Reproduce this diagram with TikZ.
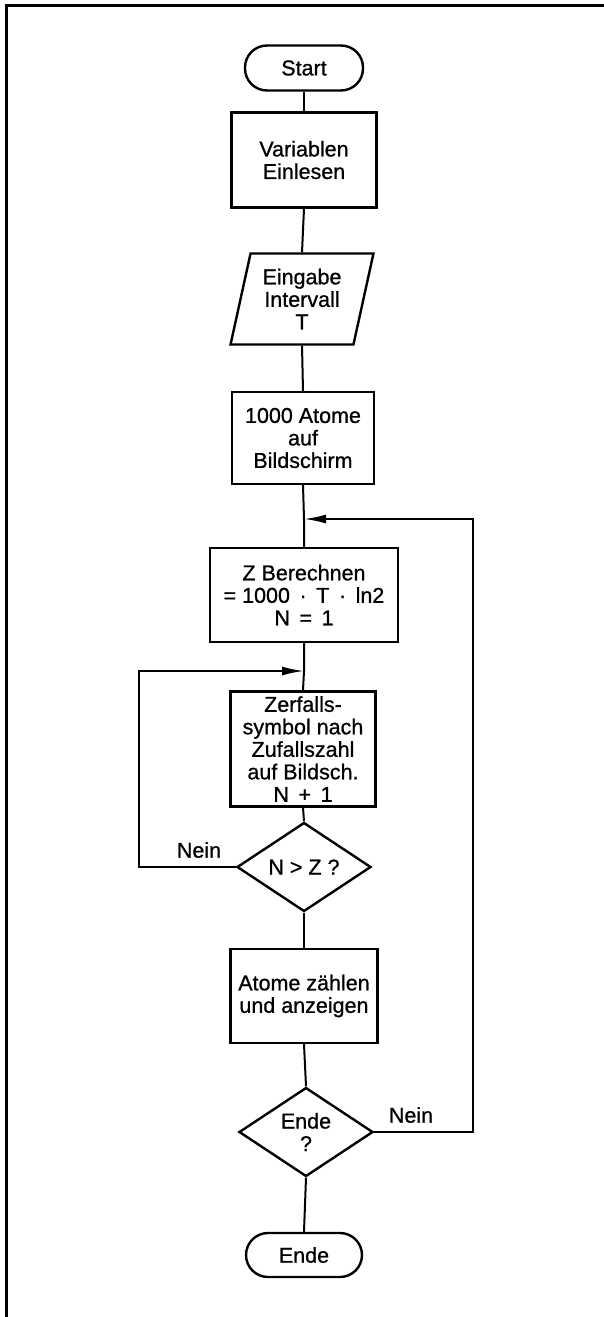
\documentclass[tikz,border=0pt]{standalone}
\usepackage{fontspec}
\setmainfont[FakeBold=0.8]{Liberation Sans}
\usetikzlibrary{shapes.geometric,arrows.meta}
\begin{document}
\begin{tikzpicture}[x=1pt,y=-1pt,
  every node/.style={font=\fontsize{21.5}{22.5}\selectfont, align=center, line width=2.4pt, inner sep=2pt},
  term/.style={draw, rectangle, rounded corners=22pt, minimum width=118pt, minimum height=45pt},
  proc/.style={draw, rectangle, minimum width=145pt},
  io/.style={draw, trapezium, trapezium left angle=76, trapezium right angle=104, trapezium stretches=true, minimum width=143pt, minimum height=91pt},
  dec/.style={draw, diamond, aspect=1.5, minimum width=134pt, minimum height=89pt, inner sep=0pt},
  lbl/.style={inner sep=0pt},
  conn/.style={line width=2pt},
  arr/.style={conn, -{Latex[length=22pt,width=9pt]}}
]
\useasboundingbox (0,0) rectangle (604,1317);
% frame
\draw[line width=3pt] (6,1317) -- (6,5) -- (604,5);

\node[term] (start) at (304,68) {Start};
\node[proc, minimum height=95pt] (var) at (304,160) {Variablen\\Einlesen};
\node[io] (inp) at (302,299) {Eingabe\\Intervall\\T};
\node[proc, minimum width=142pt, minimum height=92pt] (atoms) at (303,438) {1000 Atome\\auf\\Bildschirm};
\coordinate (j1) at (304,519);
\node[proc, minimum width=188pt, minimum height=94pt] (zb) at (304,595) {Z Berechnen\\= 1000 \,·\, T \,·\, ln2\\N \,=\, 1};
\coordinate (j2) at (304,671);
\node[proc, minimum height=115pt] (zer) at (303,749) {Zerfalls-\\symbol nach\\Zufallszahl\\auf Bildsch.\\N \,+\, 1};
\node[dec] (d1) at (304,867) {N > Z ?};
\node[proc, minimum width=147pt, minimum height=94pt] (cnt) at (304,996) {Atome zählen\\und anzeigen};
\node[dec] (d2) at (306,1132) {Ende\\?};
\node[term, minimum width=116pt, minimum height=44pt] (end) at (304,1255) {Ende};

\coordinate (c1) at (139,867);
\coordinate (c2) at (473,1132);
\node[lbl] (n1) at (199,850) {Nein};
\node[lbl] (n2) at (411,1115) {Nein};

\draw[conn] (start.south) -- (var.north);
\draw[conn] (var.south) -- (inp.north);
\draw[conn] (inp.south) -- (atoms.north);
\draw[conn] (atoms.south) -- (j1) -- (zb.north);
\draw[conn] (zb.south) -- (j2) -- (zer.north);
\draw[conn] (zer.south) -- (d1.north);
\draw[conn] (d1.south) -- (cnt.north);
\draw[conn] (cnt.south) -- (d2.north);
\draw[conn] (d2.south) -- (end.north);
\draw[arr] (d1.west) -- (c1) |- (j2);
\draw[arr] (d2.east) -- (c2) |- (j1);
\end{tikzpicture}
\end{document}
